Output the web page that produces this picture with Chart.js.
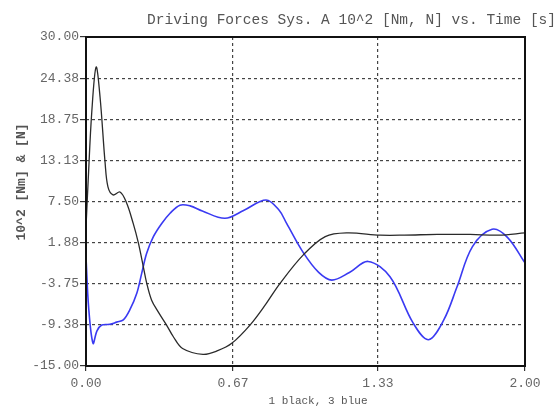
<!DOCTYPE html>
<html>
<head>
<meta charset="utf-8">
<script src="https://cdn.jsdelivr.net/npm/chart.js@4/dist/chart.umd.min.js"></script>
<style>
  html, body { margin: 0; padding: 0; background: #fff; }
  #chart { display: block; }
</style>
</head>
<body>
<canvas id="chart" width="559" height="408"></canvas>
<script>
// Time axis [s] and driving forces (10^2 Nm / N)
const blackTime = [0.000, 0.010, 0.026, 0.046, 0.064, 0.087, 0.100, 0.123, 0.155, 0.185,
  0.215, 0.238, 0.261, 0.276, 0.299, 0.329, 0.367, 0.398, 0.440, 0.533, 0.600, 0.664,
  0.747, 0.820, 0.884, 0.990, 1.090, 1.190, 1.340, 1.450, 1.600, 1.750, 1.880, 2.000];
const blackForce = [4.0, 10.4, 19.6, 25.9, 21.8, 12.8, 9.5, 8.4, 8.8, 7.3,
  4.5, 1.9, -1.4, -3.6, -6.0, -7.6, -9.4, -11.0, -12.6, -13.4, -12.9, -11.9,
  -9.4, -6.5, -3.7, 0.2, 2.7, 3.2, 2.9, 2.9, 3.0, 3.0, 2.9, 3.2];

const blueTime = [0.000, 0.012, 0.032, 0.050, 0.072, 0.109, 0.140, 0.170, 0.200, 0.231,
  0.254, 0.276, 0.307, 0.345, 0.383, 0.428, 0.474, 0.530, 0.633, 0.720, 0.820,
  0.880, 0.914, 0.990, 1.060, 1.120, 1.200, 1.285, 1.385, 1.490, 1.560,
  1.630, 1.690, 1.760, 1.850, 1.920, 2.000];
const blueForce = [-0.1, -7.0, -11.9, -10.2, -9.4, -9.3, -9.0, -8.7, -7.3, -5.1,
  -2.3, 0.4, 2.7, 4.5, 5.9, 7.0, 6.9, 6.2, 5.2, 6.3, 7.7,
  6.3, 4.5, 0.5, -2.2, -3.25, -2.2, -0.7, -2.8, -9.1, -11.4,
  -8.7, -4.2, 1.3, 3.7, 2.6, -0.9];

const xTicks = [0, 0.67, 1.33, 2.0];
const xTickLabels = ["0.00", "0.67", "1.33", "2.00"];
const yMin = -15, yMax = 30, yStep = 5.625;

const titleText = "Driving Forces Sys. A 10^2 [Nm, N] vs. Time [s]";
const yTitleText = "10^2 [Nm] & [N]";
const xTitleText = "1 black, 3 blue";

const MONO = "'Liberation Mono', 'DejaVu Sans Mono', monospace";

function toPoints(xs, ys) {
  return xs.map((x, i) => ({ x: x, y: ys[i] }));
}

// frame, titles and white background
const decorPlugin = {
  id: "decor",
  beforeDraw(chart) {
    const ctx = chart.ctx;
    ctx.save();
    ctx.fillStyle = "#fff";
    ctx.fillRect(0, 0, chart.width, chart.height);
    ctx.restore();
  },
  afterDraw(chart) {
    const ctx = chart.ctx;
    const a = chart.chartArea;
    ctx.save();
    ctx.strokeStyle = "#111";
    ctx.lineWidth = 2;
    ctx.strokeRect(a.left, a.top, a.right - a.left, a.bottom - a.top);

    ctx.fillStyle = "#555";
    ctx.font = "14.5px " + MONO;
    ctx.textAlign = "right";
    ctx.textBaseline = "middle";
    ctx.fillText(titleText, 556, 20);

    ctx.font = "11px " + MONO;
    ctx.textAlign = "center";
    ctx.fillText(xTitleText, 318, 401);

    ctx.translate(22, 182);
    ctx.rotate(-Math.PI / 2);
    ctx.font = "bold 13px " + MONO;
    ctx.fillStyle = "#555";
    ctx.fillText(yTitleText, 0, 0);
    ctx.restore();
  },
};

function edgeTransparent(min, max) {
  return (c) => {
    const v = c.tick ? c.tick.value : null;
    if (v === null || Math.abs(v - min) < 1e-6 || Math.abs(v - max) < 1e-6) {
      return "rgba(0,0,0,0)";
    }
    return "#444";
  };
}

new Chart(document.getElementById("chart"), {
  type: "line",
  data: {
    datasets: [
      {
        label: "1 black",
        data: toPoints(blackTime, blackForce),
        borderColor: "#2a2a2a",
        borderWidth: 1.3,
        pointRadius: 0,
        tension: 0.35,
        fill: false,
      },
      {
        label: "3 blue",
        data: toPoints(blueTime, blueForce),
        borderColor: "#3a3af2",
        borderWidth: 1.6,
        pointRadius: 0,
        tension: 0.35,
        fill: false,
      },
    ],
  },
  options: {
    responsive: false,
    animation: false,
    layout: { padding: { top: 37, right: 34, left: 0, bottom: 0 } },
    plugins: {
      legend: { display: false },
      title: { display: false },
      tooltip: { enabled: false },
    },
    scales: {
      x: {
        type: "linear",
        min: 0,
        max: 2,
        afterBuildTicks: (scale) => {
          scale.ticks = xTicks.map((v) => ({ value: v }));
        },
        afterFit: (scale) => {
          scale.height = 42;
        },
        ticks: {
          autoSkip: false,
          maxRotation: 0,
          padding: 5,
          color: "#666",
          font: { family: MONO, size: 13 },
          callback: (value, index) => xTickLabels[index],
        },
        grid: {
          color: edgeTransparent(0, 2),
          tickColor: "#333",
          tickLength: 5,
          lineWidth: 1.2,
        },
        border: { display: false, dash: [3, 3] },
      },
      y: {
        type: "linear",
        min: yMin,
        max: yMax,
        afterFit: (scale) => {
          scale.width = 86;
        },
        ticks: {
          stepSize: yStep,
          padding: 1,
          color: "#666",
          font: { family: MONO, size: 13 },
          callback: (value) => value.toFixed(2),
        },
        grid: {
          color: edgeTransparent(yMin, yMax),
          tickColor: "#333",
          tickLength: 6,
          lineWidth: 1.2,
        },
        border: { display: false, dash: [3, 3] },
      },
    },
  },
  plugins: [decorPlugin],
});
</script>
</body>
</html>
